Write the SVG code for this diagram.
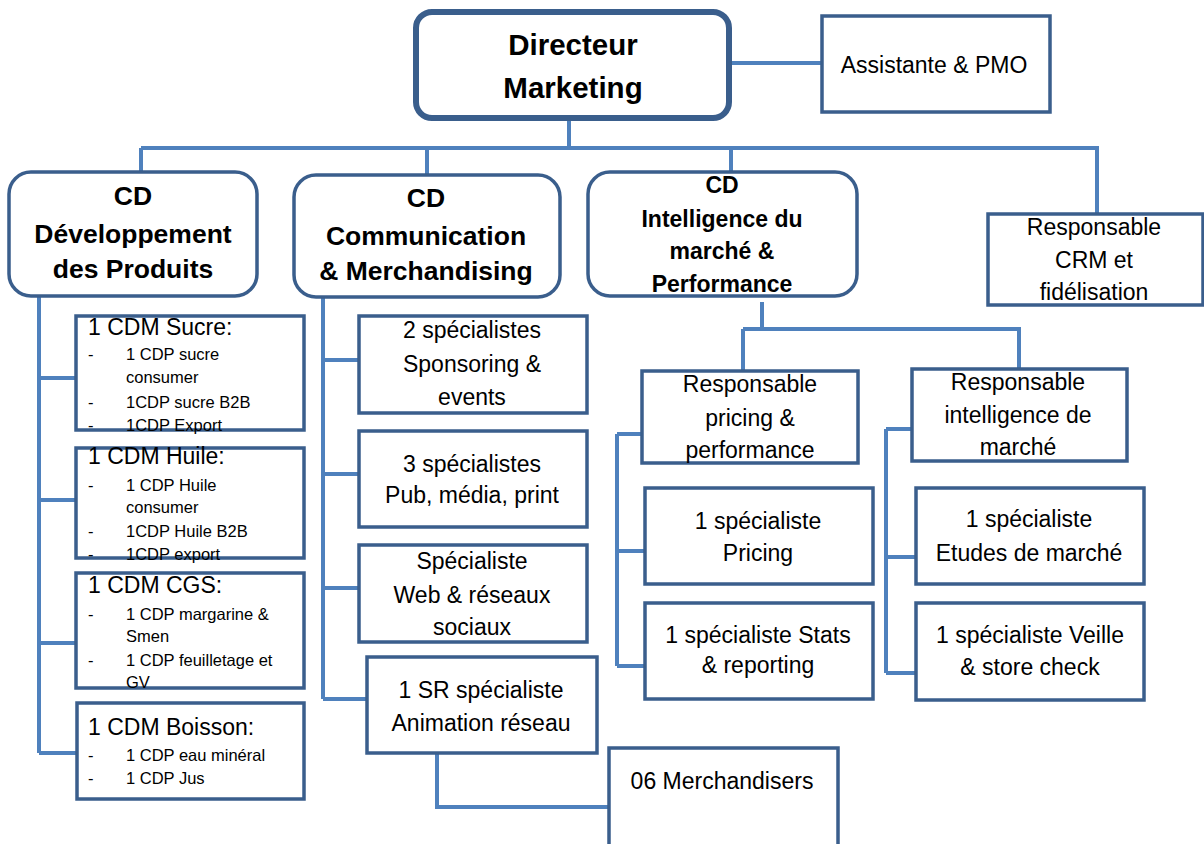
<svg xmlns="http://www.w3.org/2000/svg" width="1204" height="844" viewBox="0 0 1204 844">
<style>
.bx{fill:#fff;stroke:#3A5E8C;stroke-width:3.5}
.bxr{fill:#fff;stroke:#3A5E8C;stroke-width:3.5}
.top{fill:#fff;stroke:#3A5E8C;stroke-width:6}
.cn{fill:none;stroke:#4F81BD;stroke-width:4}
text{font-family:"Liberation Sans",Arial,sans-serif;fill:#000}
.t{font-size:23px;text-anchor:middle}
.b{font-weight:bold;text-anchor:middle}
.h{font-size:23px}
.l{font-size:16.5px}
</style>
<rect width="1204" height="844" fill="#fff"/>
<g id="connectors">
<path class="cn" d="M730 63H822"/>
<path class="cn" d="M569 120V148M141 148H1097V213M141 148V172M427 148V174M731 148V172"/>
<path class="cn" d="M39 296V753M39 378H76M39 500H76M39 643H76M39 753H77"/>
<path class="cn" d="M323 297V699M323 360H359M323 474H359M323 588H359M323 699H367"/>
<path class="cn" d="M437 754V807H609"/>
<path class="cn" d="M762 302V329M743 329H1019V369M743 329V371"/>
<path class="cn" d="M617 434V666M617 434H642M617 551H645M617 666H645"/>
<path class="cn" d="M886 429V673M886 429H912M886 557H916M886 673H916"/>
</g>
<g id="directeur">
<rect class="top" x="416" y="12" width="313" height="106" rx="16"/>
<text class="b" x="573" y="55" font-size="29.5">Directeur</text>
<text class="b" x="573" y="98" font-size="29.5">Marketing</text>
</g>
<g id="assistante">
<rect class="bx" x="822" y="16" width="228" height="96"/>
<text class="t" x="934" y="73">Assistante &amp; PMO</text>
</g>
<g id="cd-dev">
<rect class="bxr" x="9" y="172" width="248" height="124" rx="22"/>
<text class="b" x="133" y="205" font-size="26.5">CD</text>
<text class="b" x="133" y="243" font-size="26.5">Développement</text>
<text class="b" x="133" y="278" font-size="26.5">des Produits</text>
</g>
<g id="cd-comm">
<rect class="bxr" x="294" y="175" width="266" height="122" rx="22"/>
<text class="b" x="426" y="207" font-size="26.5">CD</text>
<text class="b" x="426" y="245" font-size="26.5">Communication</text>
<text class="b" x="426" y="280" font-size="26.5">&amp; Merchandising</text>
</g>
<g id="cd-intel">
<rect class="bxr" x="588" y="172" width="269" height="124" rx="22"/>
<text class="b" x="722" y="193" font-size="23">CD</text>
<text class="b" x="722" y="227" font-size="23">Intelligence du</text>
<text class="b" x="722" y="259" font-size="23">marché &amp;</text>
<text class="b" x="722" y="292" font-size="23">Performance</text>
</g>
<g id="crm">
<rect class="bx" x="988" y="214" width="215" height="91"/>
<text class="t" x="1094" y="235">Responsable</text>
<text class="t" x="1094" y="268">CRM et</text>
<text class="t" x="1094" y="300">fidélisation</text>
</g>
<g id="cdm-sucre">
<rect class="bx" x="76" y="316" width="228" height="114"/>
<text class="h" x="88" y="335">1 CDM Sucre:</text>
<text class="l" x="88" y="360">-</text><text class="l" x="126" y="360">1 CDP sucre</text>
<text class="l" x="126" y="383">consumer</text>
<text class="l" x="88" y="408">-</text><text class="l" x="126" y="408">1CDP sucre B2B</text>
<text class="l" x="88" y="431">-</text><text class="l" x="126" y="431">1CDP Export</text>
</g>
<g id="cdm-huile">
<rect class="bx" x="76" y="448" width="228" height="110"/>
<text class="h" x="88" y="464">1 CDM Huile:</text>
<text class="l" x="88" y="491">-</text><text class="l" x="126" y="491">1 CDP Huile</text>
<text class="l" x="126" y="513">consumer</text>
<text class="l" x="88" y="537">-</text><text class="l" x="126" y="537">1CDP Huile B2B</text>
<text class="l" x="88" y="560">-</text><text class="l" x="126" y="560">1CDP export</text>
</g>
<g id="cdm-cgs">
<rect class="bx" x="76" y="573" width="228" height="115"/>
<text class="h" x="88" y="593">1 CDM CGS:</text>
<text class="l" x="88" y="620">-</text><text class="l" x="126" y="620">1 CDP margarine &amp;</text>
<text class="l" x="126" y="642">Smen</text>
<text class="l" x="88" y="666">-</text><text class="l" x="126" y="666">1 CDP feuilletage et</text>
<text class="l" x="126" y="688">GV</text>
</g>
<g id="cdm-boisson">
<rect class="bx" x="77" y="703" width="227" height="96"/>
<text class="h" x="88" y="735">1 CDM Boisson:</text>
<text class="l" x="88" y="761">-</text><text class="l" x="126" y="761">1 CDP eau minéral</text>
<text class="l" x="88" y="784">-</text><text class="l" x="126" y="784">1 CDP Jus</text>
</g>
<g id="sponsoring">
<rect class="bx" x="359" y="316" width="228" height="97"/>
<text class="t" x="472" y="338">2 spécialistes</text>
<text class="t" x="472" y="372">Sponsoring &amp;</text>
<text class="t" x="472" y="405">events</text>
</g>
<g id="pub">
<rect class="bx" x="359" y="431" width="228" height="96"/>
<text class="t" x="472" y="472">3 spécialistes</text>
<text class="t" x="472" y="503">Pub, média, print</text>
</g>
<g id="web">
<rect class="bx" x="359" y="545" width="228" height="97"/>
<text class="t" x="472" y="569">Spécialiste</text>
<text class="t" x="472" y="603">Web &amp; réseaux</text>
<text class="t" x="472" y="635">sociaux</text>
</g>
<g id="sr">
<rect class="bx" x="367" y="657" width="230" height="96"/>
<text class="t" x="481" y="698">1 SR spécialiste</text>
<text class="t" x="481" y="731">Animation réseau</text>
</g>
<g id="merchandisers">
<rect class="bx" x="609" y="748" width="229" height="120"/>
<text class="t" x="722" y="789" font-size="22">06 Merchandisers</text>
</g>
<g id="resp-pricing">
<rect class="bx" x="642" y="371" width="216" height="92"/>
<text class="t" x="750" y="392">Responsable</text>
<text class="t" x="750" y="426">pricing &amp;</text>
<text class="t" x="750" y="458">performance</text>
</g>
<g id="resp-intel">
<rect class="bx" x="912" y="369" width="215" height="92"/>
<text class="t" x="1018" y="390">Responsable</text>
<text class="t" x="1018" y="423">intelligence de</text>
<text class="t" x="1018" y="455">marché</text>
</g>
<g id="spec-pricing">
<rect class="bx" x="645" y="488" width="228" height="96"/>
<text class="t" x="758" y="529">1 spécialiste</text>
<text class="t" x="758" y="561">Pricing</text>
</g>
<g id="spec-stats">
<rect class="bx" x="645" y="603" width="228" height="96"/>
<text class="t" x="758" y="643">1 spécialiste Stats</text>
<text class="t" x="758" y="673">&amp; reporting</text>
</g>
<g id="spec-etudes">
<rect class="bx" x="916" y="488" width="228" height="96"/>
<text class="t" x="1029" y="527">1 spécialiste</text>
<text class="t" x="1029" y="561">Etudes de marché</text>
</g>
<g id="spec-veille">
<rect class="bx" x="916" y="603" width="228" height="97"/>
<text class="t" x="1030" y="643">1 spécialiste Veille</text>
<text class="t" x="1030" y="675">&amp; store check</text>
</g>
</svg>
